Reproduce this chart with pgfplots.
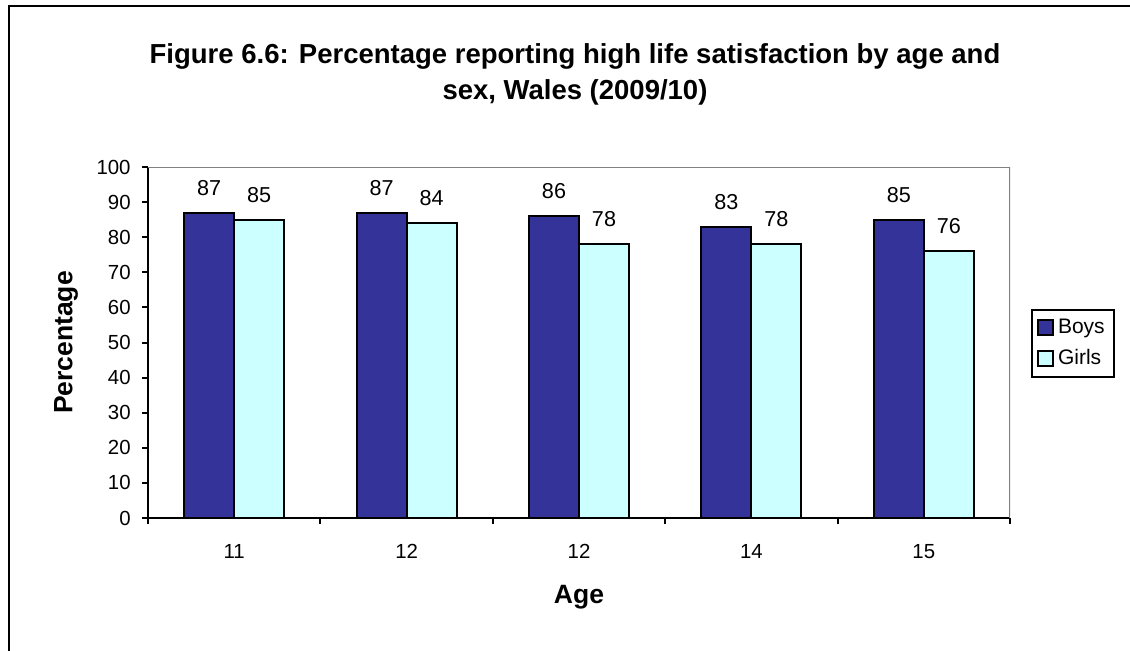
\documentclass[border=0pt]{standalone}
\usepackage{pgfplots}
\pgfplotsset{compat=1.18}
\usepackage{fontspec}
\setmainfont{Liberation Sans}
\definecolor{boys}{HTML}{333399}
\definecolor{girls}{HTML}{CCFFFF}
\pgfplotsset{/pgf/number format/assume math mode=true}
\begin{document}
\begin{tikzpicture}
\useasboundingbox (0,0) rectangle (565pt,-325pt);
\draw[line width=1.2pt] (4.5pt,-326pt) -- (4.5pt,-3pt) -- (566pt,-3pt);
\node[anchor=base, font=\bfseries\fontsize{13.75}{16}\selectfont] at (287.5pt,-31.5pt) {Figure 6.6: Percentage reporting high life satisfaction by age and};
\node[anchor=base, font=\bfseries\fontsize{13.75}{16}\selectfont] at (287.5pt,-49.5pt) {sex, Wales (2009/10)};
\begin{axis}[
  at={(74pt,-259pt)}, anchor=south west,
  scale only axis, width=431pt, height=175.5pt,
  ybar=0pt, bar width=25pt,
  xmin=-0.5, xmax=4.5, ymin=0, ymax=100,
  xtick={0,...,4}, xticklabels={11,12,12,14,15},
  minor xtick={-0.5,0.5,1.5,2.5,3.5,4.5},
  ytick={0,10,...,100},
  tick align=outside,
  major tick length=3pt, minor tick length=3pt,
  axis x line*=bottom, axis y line*=left,
  axis line style={line width=1pt, -},
  major x tick style={draw=none},
  minor x tick style={black, line width=1pt},
  ytick style={black, line width=1pt},
  tick label style={font=\fontsize{10.2}{12}\selectfont},
  xticklabel style={anchor=north, inner sep=0pt, yshift=-10pt},
  yticklabel style={anchor=east, inner sep=0pt, xshift=-5.5pt},
  xlabel={Age}, ylabel={Percentage},
  label style={font=\bfseries\fontsize{13.25}{15}\selectfont},
  xlabel style={at={(axis description cs:0.5,-0.225)}, anchor=center},
  ylabel style={at={(axis description cs:-0.095,0.5)}, anchor=center},
  nodes near coords,
  nodes near coords style={font=\fontsize{10.8}{12}\selectfont, anchor=base, inner sep=0pt, yshift=8.7pt, black},
  legend style={at={(axis description cs:1.0244,0.5954)}, anchor=north west, draw=black, line width=1pt, font=\fontsize{10.5}{12}\selectfont, inner sep=2.5pt, row sep=2.5pt, cells={anchor=west}},
  legend image code/.code={\draw[#1, line width=0.9pt, draw=black] (0pt,-3.8pt) rectangle (7.6pt,3.8pt);},
]
\addplot[fill=boys, draw=black, line width=1pt] coordinates {(0,87) (1,87) (2,86) (3,83) (4,85)};
\addplot[fill=girls, draw=black, line width=1pt] coordinates {(0,85) (1,84) (2,78) (3,78) (4,76)};
\legend{Boys, Girls}
\draw[gray, line width=0.8pt] (rel axis cs:0,1) -- (rel axis cs:1,1) -- (rel axis cs:1,0);
\end{axis}
\end{tikzpicture}
\end{document}
